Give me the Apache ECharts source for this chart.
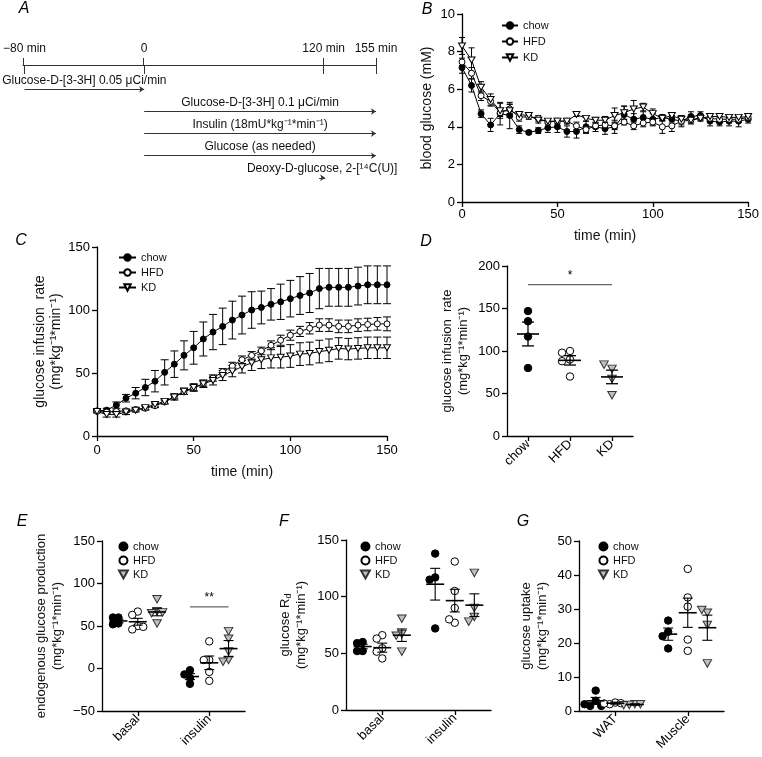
<!DOCTYPE html>
<html><head><meta charset="utf-8">
<script src="https://cdn.jsdelivr.net/npm/echarts@6/dist/echarts.min.js"></script>
<style>html,body{margin:0;padding:0;background:#fff}#c{width:762px;height:757px}</style>
</head><body><div id="c"></div>
<script>
// ===================== DATA =====================
// Panel A: clamp protocol timeline
const aTickValues = [-80, 0, 120, 155];
const aTickLabels = ['\u221280 min', '0', '120 min', '155 min'];
const aInfusionLabels = ['Glucose-D-[3-3H] 0.05 \u03bcCi/min', 'Glucose-D-[3-3H] 0.1 \u03bcCi/min', 'Insulin (18mU*kg\u207b\u00b9*min\u207b\u00b9)', 'Glucose (as needed)', 'Deoxy-D-glucose, 2-[\u00b9\u2074C(U)]'];
const aInfusionStart = [-80, 0, 0, 0, 117];
const aInfusionEnd = [0, 155, 155, 155, 121];

// Panels B, C: time course
const timeMin = [0,5,10,15,20,25,30,35,40,45,50,55,60,65,70,75,80,85,90,95,100,105,110,115,120,125,130,135,140,145,150];
const bChow    = [7.15,6.2,4.7,4.1,4.7,4.6,3.85,3.7,3.8,3.95,4.0,3.75,3.75,4.0,4.0,3.9,4.0,4.65,4.4,4.5,4.4,4.5,4.4,4.3,4.55,4.6,4.3,4.25,4.3,4.3,4.4];
const bChowErr = [0.3,0.35,0.2,0.35,0.6,0.7,0.2,0.1,0.15,0.25,0.3,0.3,0.35,0.3,0.25,0.3,0.35,0.45,0.3,0.3,0.3,0.15,0.2,0.3,0.25,0.2,0.25,0.2,0.25,0.3,0.2];
const bHFD     = [7.45,6.85,5.65,5.35,4.75,4.95,4.5,4.55,4.45,4.25,4.3,4.3,4.05,3.85,4.05,4.1,4.05,4.25,4.05,4.2,4.25,4.0,4.05,4.3,4.35,4.5,4.45,4.4,4.4,4.4,4.5];
const bHFDErr  = [0.2,0.3,0.25,0.25,0.2,0.25,0.2,0.15,0.15,0.1,0.15,0.15,0.2,0.2,0.15,0.15,0.2,0.15,0.2,0.2,0.2,0.35,0.3,0.2,0.2,0.15,0.15,0.15,0.15,0.15,0.15];
const bKD      = [8.3,7.55,6.1,5.45,4.85,4.85,4.65,4.6,4.35,4.3,4.3,4.3,4.65,4.45,4.35,4.35,4.6,4.75,4.95,5.05,4.7,4.45,4.6,4.4,4.35,4.45,4.55,4.55,4.5,4.5,4.55];
const bKDErr   = [0.45,0.65,0.3,0.3,0.4,0.35,0.15,0.1,0.15,0.1,0.1,0.1,0.1,0.15,0.15,0.2,0.4,0.35,0.45,0.2,0.25,0.15,0.15,0.2,0.15,0.15,0.1,0.15,0.15,0.1,0.1];

const cChow    = [20,20.5,24.5,30,34,38.5,43.5,50.5,57,64,70,77,82.5,87,92,96,100,102,104.5,106.5,109,111.5,113.5,117,118,118,118,119,120,120,120];
const cChowErr = [1,1.5,2.5,3,4.5,6.5,8.5,10,10.5,11.5,13,13.5,14,14.5,15,15,14.5,13,12.5,14,14.5,15,15.5,16,15,15,15,15,15,15,15];
const cHFD     = [19.5,19,19.5,20,21,22,24,27,31,35,38,41.5,46,51,55.5,60.5,64,67.5,72,76,80,83,85.5,88,88,87,87,88,88.5,89,89];
const cHFDErr  = [1,1,1,1,1,1.5,1.5,1.5,1.5,2,2,2,2.5,2.5,3,3,3,3,3.5,4,4,4,4.5,5,5,5,5,5,5,5,5.5];
const cKD      = [19.5,17,17,19,20.5,22.5,25,27.5,31,35.5,38.5,41.5,44,48,51.5,55,58,60.5,62,62.5,63.5,65,65.5,67,68,69.5,69,69.5,70,70,70];
const cKDErr   = [1,2,2,2,1.5,1.5,2,2,2.5,2.5,3,3,3.5,4,4.5,5,6,7,8,8.5,9,9,9,9,9,8.5,8.5,8.5,8.5,8.5,8.5];

// Panel D: steady-state glucose infusion rate
const dCategories = ['chow', 'HFD', 'KD'];
const dChow = [135, 147, 117, 80];
const dHFD  = [90, 88, 100, 98, 70];
const dKD   = [79, 84, 67, 48];
const dMean = [120, 89, 69.5];
const dSem  = [14, 5.5, 8];
const dSig  = [{from: 0, to: 2, value: 178, text: '*'}];

// Panel E: endogenous glucose production  (groups: basal, insulin)
const eCategories = ['basal', 'insulin'];
const eChow = [[60, 60, 53, 52], [-2, -7, -11, -18]];
const eHFD  = [[67, 63, 50, 46, 49], [32, 10, 10, -4, -14.5]];
const eKD   = [[81.5, 67, 65, 66, 53], [44, 35, 20, 10, 8]];
const eMean = {chow: [56, -9.5], HFD: [55, 6.7], KD: [66.5, 23.4]};
const eSem  = {chow: [2, 3.5], HFD: [4, 8], KD: [4.5, 9.5]};
const eSig  = [{group: 1, from: 'chow', to: 'KD', value: 72.5, text: '**'}];

// Panel F: glucose Rd
const fCategories = ['basal', 'insulin'];
const fChow = [[60, 59, 52, 52], [138, 117, 115, 72]];
const fHFD  = [[66, 63, 54.5, 51.5, 45.5], [131, 105, 90, 77, 80]];
const fKD   = [[80.5, 67, 65.5, 51.5], [121, 90, 82, 78]];
const fMean = {chow: [56, 111], HFD: [55, 96.5], KD: [66, 92.5]};
const fSem  = {chow: [2, 14], HFD: [4, 10], KD: [5.5, 10]};

// Panel G: tissue glucose uptake
const gCategories = ['WAT', 'Muscle'];
const gChow = [[6, 3, 1.5, 1.5, 2], [26.6, 23.3, 22, 18.4]];
const gHFD  = [[2.5, 2, 2.3, 2.2], [41.8, 33.4, 30.7, 21, 17.7]];
const gKD   = [[2, 1.8, 2, 1.7], [28.9, 29.7, 25.3, 14]];
const gMean = {chow: [3, 22.6], HFD: [2.3, 28.9], KD: [1.9, 24.5]};
const gSem  = {chow: [1, 1.8], HFD: [0.3, 4.3], KD: [0.2, 3.7]};

const diets = ['chow', 'HFD', 'KD'];
const unitLabel = '(mg*kg\u207b\u00b9*min\u207b\u00b9)';

// ===================== STYLE / LAYOUT =====================
const FONT = "'Liberation Sans', Arial, Helvetica, sans-serif";
const BLACK = '#000';
const TRI = 'path://M0,0L10,0L5,9Z';
const dietStyle = {
  chow: {symbol: 'circle', size: 7.5, color: '#000', border: '#000'},
  HFD:  {symbol: 'circle', size: 7.5, color: '#fff', border: '#000'},
  KD:   {symbol: TRI, size: [8.5, 7.5], color: '#bfbfbf', border: '#333'}
};
const lineDietStyle = {
  chow: {symbol: 'circle', size: 6, color: '#000'},
  HFD:  {symbol: 'circle', size: 6, color: '#fff'},
  KD:   {symbol: TRI, size: [7, 6], color: '#fff'}
};
const groupOffset = {chow: -0.27, HFD: 0, KD: 0.27};
const plainText = {fontWeight: 300, fontStyle: 'normal', textBorderWidth: 0, textBorderColor: 'transparent', textShadowBlur: 0, textShadowColor: 'transparent'};

function merge(a, b) {
  const out = Array.isArray(a) ? a.slice() : Object.assign({}, a);
  for (const k in b) {
    if (b[k] && typeof b[k] === 'object' && !Array.isArray(b[k]) && a[k] && typeof a[k] === 'object') out[k] = merge(a[k], b[k]);
    else out[k] = b[k];
  }
  return out;
}
const baseAxis = {
  axisLine: {show: true, onZero: false, lineStyle: {color: BLACK, width: 1.3}},
  axisTick: {show: true, length: 5, lineStyle: {color: BLACK, width: 1.3}},
  axisLabel: Object.assign({color: BLACK, fontSize: 13, fontFamily: FONT, margin: 7}, plainText),
  splitLine: {show: false},
  nameTextStyle: Object.assign({color: '#111', fontSize: 14, fontFamily: FONT, lineHeight: 16}, plainText),
  nameLocation: 'middle'
};
const ax = (o) => merge(baseAxis, o);
const minusFmt = (v) => (v < 0 ? '\u2212' + Math.abs(v) : String(v));

// beeswarm offsets (pixel-space collision avoidance), returns offsets in x-axis units
function swarm(vals, pxPerY, pxPerX, d) {
  const placed = [];
  const steps = [0, -1, 1, -2, 2, -3, 3];
  return vals.map(v => {
    const y = v * pxPerY;
    for (const s of steps) {
      const x = s * d;
      if (placed.every(p => Math.hypot(p[0] - x, p[1] - y) >= d)) { placed.push([x, y]); return x / pxPerX; }
    }
    placed.push([0, y]); return 0;
  });
}

function errBarRender(capHalf, meanHalf, lw) {
  return function (params, api) {
    const x = api.value(0), m = api.value(1), e = api.value(2);
    const t = api.coord([x, m + e]), b = api.coord([x, m - e]), c = api.coord([x, m]);
    const st = {stroke: BLACK, lineWidth: lw || 1};
    const ch = [
      {type: 'line', shape: {x1: t[0], y1: t[1], x2: b[0], y2: b[1]}, style: st},
      {type: 'line', shape: {x1: t[0] - capHalf, y1: t[1], x2: t[0] + capHalf, y2: t[1]}, style: st},
      {type: 'line', shape: {x1: b[0] - capHalf, y1: b[1], x2: b[0] + capHalf, y2: b[1]}, style: st}
    ];
    if (meanHalf) ch.push({type: 'line', shape: {x1: c[0] - meanHalf, y1: c[1], x2: c[0] + meanHalf, y2: c[1]}, style: {stroke: BLACK, lineWidth: 1.6}});
    return {type: 'group', children: ch};
  };
}
function sigRender(texts) {
  return function (params, api) {
    const a = api.coord([api.value(0), api.value(2)]);
    const b = api.coord([api.value(1), api.value(2)]);
    return {type: 'group', children: [
      {type: 'line', shape: {x1: a[0], y1: a[1], x2: b[0], y2: b[1]}, style: {stroke: '#666', lineWidth: 1.2}},
      {type: 'text', x: (a[0] + b[0]) / 2, y: a[1] - 3, style: {text: texts[params.dataIndex], align: 'center', verticalAlign: 'bottom', fontSize: 12, fontFamily: FONT, fill: '#000'}}
    ]};
  };
}

// ===================== BUILD =====================
const grid = [
  {left: 23, top: 65, width: 353, height: 135},   // 0 A
  {left: 23, top: 65, width: 353, height: 135},   // 1 A (upper tick half)
  {left: 462, top: 14, width: 290, height: 188},  // 2 B
  {left: 97, top: 247, width: 290, height: 189},  // 3 C
  {left: 507, top: 266, width: 126, height: 170}, // 4 D
  {left: 102, top: 541, width: 143, height: 170}, // 5 E
  {left: 346, top: 540, width: 145, height: 170}, // 6 F
  {left: 579, top: 541, width: 145, height: 170}  // 7 G
];

const aTickFmt = (v) => aTickLabels[aTickValues.indexOf(v)];
const xAxis = [
  ax({gridIndex: 0, type: 'value', position: 'top', min: -80, max: 155,
      axisLine: {lineStyle: {color: '#333', width: 1}},
      axisTick: {inside: true, length: 9, customValues: aTickValues, lineStyle: {color: '#333', width: 1}},
      axisLabel: {customValues: aTickValues, formatter: aTickFmt, fontSize: 12, margin: 10, color: '#111'}}),
  ax({gridIndex: 1, type: 'value', position: 'top', min: -80, max: 155,
      axisLine: {lineStyle: {color: '#333', width: 1}},
      axisTick: {inside: false, length: 7, customValues: aTickValues, lineStyle: {color: '#333', width: 1}},
      axisLabel: {show: false}}),
  ax({gridIndex: 2, type: 'value', min: 0, max: 150, interval: 50, name: 'time (min)', nameGap: 26, axisLabel: {margin: 6}, nameTextStyle: {fontSize: 14}}),
  ax({gridIndex: 3, type: 'value', min: 0, max: 150, interval: 50, name: 'time (min)', nameGap: 28, axisLabel: {margin: 8}, nameTextStyle: {fontSize: 14}}),
  ax({gridIndex: 4, type: 'category', data: dCategories, axisTick: {alignWithLabel: true}, axisLabel: {rotate: 45, margin: 6}}),
  {gridIndex: 4, type: 'value', show: false, min: 0, max: 3},
  ax({gridIndex: 5, type: 'category', data: eCategories, axisTick: {alignWithLabel: true}, axisLabel: {rotate: 45, margin: 6}}),
  {gridIndex: 5, type: 'value', show: false, min: 0, max: 2},
  ax({gridIndex: 6, type: 'category', data: fCategories, axisTick: {alignWithLabel: true}, axisLabel: {rotate: 45, margin: 6}}),
  {gridIndex: 6, type: 'value', show: false, min: 0, max: 2},
  ax({gridIndex: 7, type: 'category', data: gCategories, axisTick: {alignWithLabel: true}, axisLabel: {rotate: 45, margin: 6}}),
  {gridIndex: 7, type: 'value', show: false, min: 0, max: 2}
];
const richName = {
  a: Object.assign({fontSize: 13, fontFamily: FONT, color: '#111', lineHeight: 16}, plainText),
  s: Object.assign({fontSize: 9, fontFamily: FONT, color: '#111', verticalAlign: 'bottom', lineHeight: 16, padding: [4, 0, 0, 0]}, plainText)
};
const yAxis = [
  {gridIndex: 0, type: 'value', show: false, min: -1.1, max: 5, inverse: true},
  {gridIndex: 1, type: 'value', show: false, min: -1.1, max: 5, inverse: true},
  ax({gridIndex: 2, type: 'value', min: 0, max: 10, interval: 2, name: 'blood glucose (mM)', nameGap: 27}),
  ax({gridIndex: 3, type: 'value', min: 0, max: 150, interval: 50, name: 'glucose infusion  rate\n' + unitLabel, nameGap: 28}),
  ax({gridIndex: 4, type: 'value', min: 0, max: 200, interval: 50, name: 'glucose infusion  rate\n' + unitLabel, nameGap: 36, nameTextStyle: {fontSize: 13}}),
  ax({gridIndex: 5, type: 'value', min: -50, max: 150, interval: 50, name: 'endogenous glucose production\n' + unitLabel, nameGap: 37, axisLabel: {formatter: minusFmt}, nameTextStyle: {fontSize: 13}}),
  ax({gridIndex: 6, type: 'value', min: 0, max: 150, interval: 50, nameGap: 37,
      name: '{a|glucose R}{s|d}\n{a|' + unitLabel + '}',
      nameTextStyle: {fontSize: 13, rich: richName}}),
  ax({gridIndex: 7, type: 'value', min: 0, max: 50, interval: 10, name: 'glucose uptake\n' + unitLabel, nameGap: 29, nameTextStyle: {fontSize: 13}})
];

const series = [];
// A: infusion arrows
series.push({
  type: 'lines', coordinateSystem: 'cartesian2d', xAxisIndex: 0, yAxisIndex: 0, silent: true, clip: false,
  symbol: ['none', 'arrow'], symbolSize: 5,
  lineStyle: {color: '#333', width: 1, opacity: 1},
  label: Object.assign({show: true, position: 'middle', formatter: (p) => p.name, fontSize: 12, fontFamily: FONT, color: '#111', distance: 3}, plainText),
  data: aInfusionLabels.map((n, i) => ({name: n, coords: [[aInfusionStart[i], i], [aInfusionEnd[i], i]]}))
});

// B & C: time courses
function timeCourse(panel, xi, yi, vals, errs, diet, cap) {
  const st = lineDietStyle[diet];
  series.push({type: 'custom', xAxisIndex: xi, yAxisIndex: yi, silent: true, z: 2,
    renderItem: errBarRender(cap, 0, 1), data: timeMin.map((t, i) => [t, vals[i], errs[i]])});
  series.push({type: 'line', name: panel + '|' + diet, xAxisIndex: xi, yAxisIndex: yi, z: 3,
    symbol: st.symbol, symbolSize: st.size, showAllSymbol: true,
    itemStyle: {color: st.color, borderColor: '#000', borderWidth: 1},
    lineStyle: {color: '#000', width: 1},
    emphasis: {disabled: true},
    data: timeMin.map((t, i) => [t, vals[i]])});
}
timeCourse('B', 2, 2, bChow, bChowErr, 'chow', 3);
timeCourse('B', 2, 2, bHFD, bHFDErr, 'HFD', 3);
timeCourse('B', 2, 2, bKD, bKDErr, 'KD', 3);
timeCourse('C', 3, 3, cChow, cChowErr, 'chow', 4);
timeCourse('C', 3, 3, cHFD, cHFDErr, 'HFD', 4);
timeCourse('C', 3, 3, cKD, cKDErr, 'KD', 4);

function scatterSeries(name, xi, yi, diet, pts) {
  const st = dietStyle[diet];
  series.push({type: 'scatter', name: name, xAxisIndex: xi, yAxisIndex: yi, z: 3,
    symbol: st.symbol, symbolSize: st.size,
    itemStyle: {color: st.color, borderColor: st.border, borderWidth: 1, opacity: 1},
    emphasis: {disabled: true}, data: pts});
}

// D
const dGroups = {chow: dChow, HFD: dHFD, KD: dKD};
diets.forEach((diet, k) => {
  const offs = swarm(dGroups[diet], 170 / 200, 126 / 3, 8);
  scatterSeries('D|' + diet, 5, 4, diet, dGroups[diet].map((v, i) => [k + 0.5 + offs[i], v]));
});
series.push({type: 'custom', xAxisIndex: 5, yAxisIndex: 4, silent: true, z: 5,
  renderItem: errBarRender(6, 11, 1.3), data: dMean.map((m, k) => [k + 0.5, m, dSem[k]])});
series.push({type: 'custom', xAxisIndex: 5, yAxisIndex: 4, silent: true, z: 5,
  renderItem: sigRender(dSig.map(s => s.text)), data: dSig.map(s => [s.from + 0.5, s.to + 0.5, s.value])});

// E, F, G grouped dot plots
function groupedPanel(panel, xi, yi, groupsByDiet, means, sems, pxPerY) {
  diets.forEach((diet) => {
    const pts = [];
    groupsByDiet[diet].forEach((vals, g) => {
      const offs = swarm(vals, pxPerY, 143 / 2, 5.5);
      vals.forEach((v, i) => pts.push([g + 0.5 + groupOffset[diet] + offs[i], v]));
    });
    scatterSeries(panel + '|' + diet, xi, yi, diet, pts);
  });
  const ms = [];
  diets.forEach((diet) => means[diet].forEach((m, g) => ms.push([g + 0.5 + groupOffset[diet], m, sems[diet][g]])));
  series.push({type: 'custom', xAxisIndex: xi, yAxisIndex: yi, silent: true, z: 5,
    renderItem: errBarRender(5, 9, 1.1), data: ms});
}
groupedPanel('E', 7, 5, {chow: eChow, HFD: eHFD, KD: eKD}, eMean, eSem, 170 / 200);
series.push({type: 'custom', xAxisIndex: 7, yAxisIndex: 5, silent: true, z: 5,
  renderItem: sigRender(eSig.map(s => s.text)),
  data: eSig.map(s => [s.group + 0.5 + groupOffset[s.from], s.group + 0.5 + groupOffset[s.to], s.value])});
groupedPanel('F', 9, 6, {chow: fChow, HFD: fHFD, KD: fKD}, fMean, fSem, 170 / 150);
groupedPanel('G', 11, 7, {chow: gChow, HFD: gHFD, KD: gKD}, gMean, gSem, 170 / 50);

// legends
const legFmt = (n) => n.split('|')[1];
function legend(panel, left, top, w, gap) {
  return {show: true, orient: 'vertical', left: left, top: top, itemWidth: w, itemHeight: 8, itemGap: gap,
    selectedMode: false, formatter: legFmt,
    textStyle: Object.assign({fontSize: 11, fontFamily: FONT, color: '#111', padding: [0, 0, 0, 0]}, plainText),
    data: diets.map(d => panel + '|' + d)};
}

const option = {
  animation: false,
  textStyle: {fontFamily: FONT, fontWeight: 'normal'},
  grid: grid, xAxis: xAxis, yAxis: yAxis, series: series,
  legend: [
    legend('B', 496, 15, 16, 5),
    legend('C', 113, 247, 17, 4),
    legend('E', 113, 536, 9, 3),
    legend('F', 355, 536, 9, 3),
    legend('G', 593, 536, 9, 3)
  ],
  graphic: [
    ['A', 24, 9], ['B', 427, 10], ['C', 21, 241], ['D', 426, 242], ['E', 22, 522], ['F', 284, 522], ['G', 523, 522]
  ].map(([t, x, y]) => ({type: 'text', x: x, y: y, silent: true,
    style: {text: t, align: 'center', verticalAlign: 'middle', font: 'italic 16px ' + FONT, fill: '#000'}}))
};

const chart = echarts.init(document.getElementById('c'), null, {renderer: 'canvas'});
chart.setOption(option);
</script></body></html>
